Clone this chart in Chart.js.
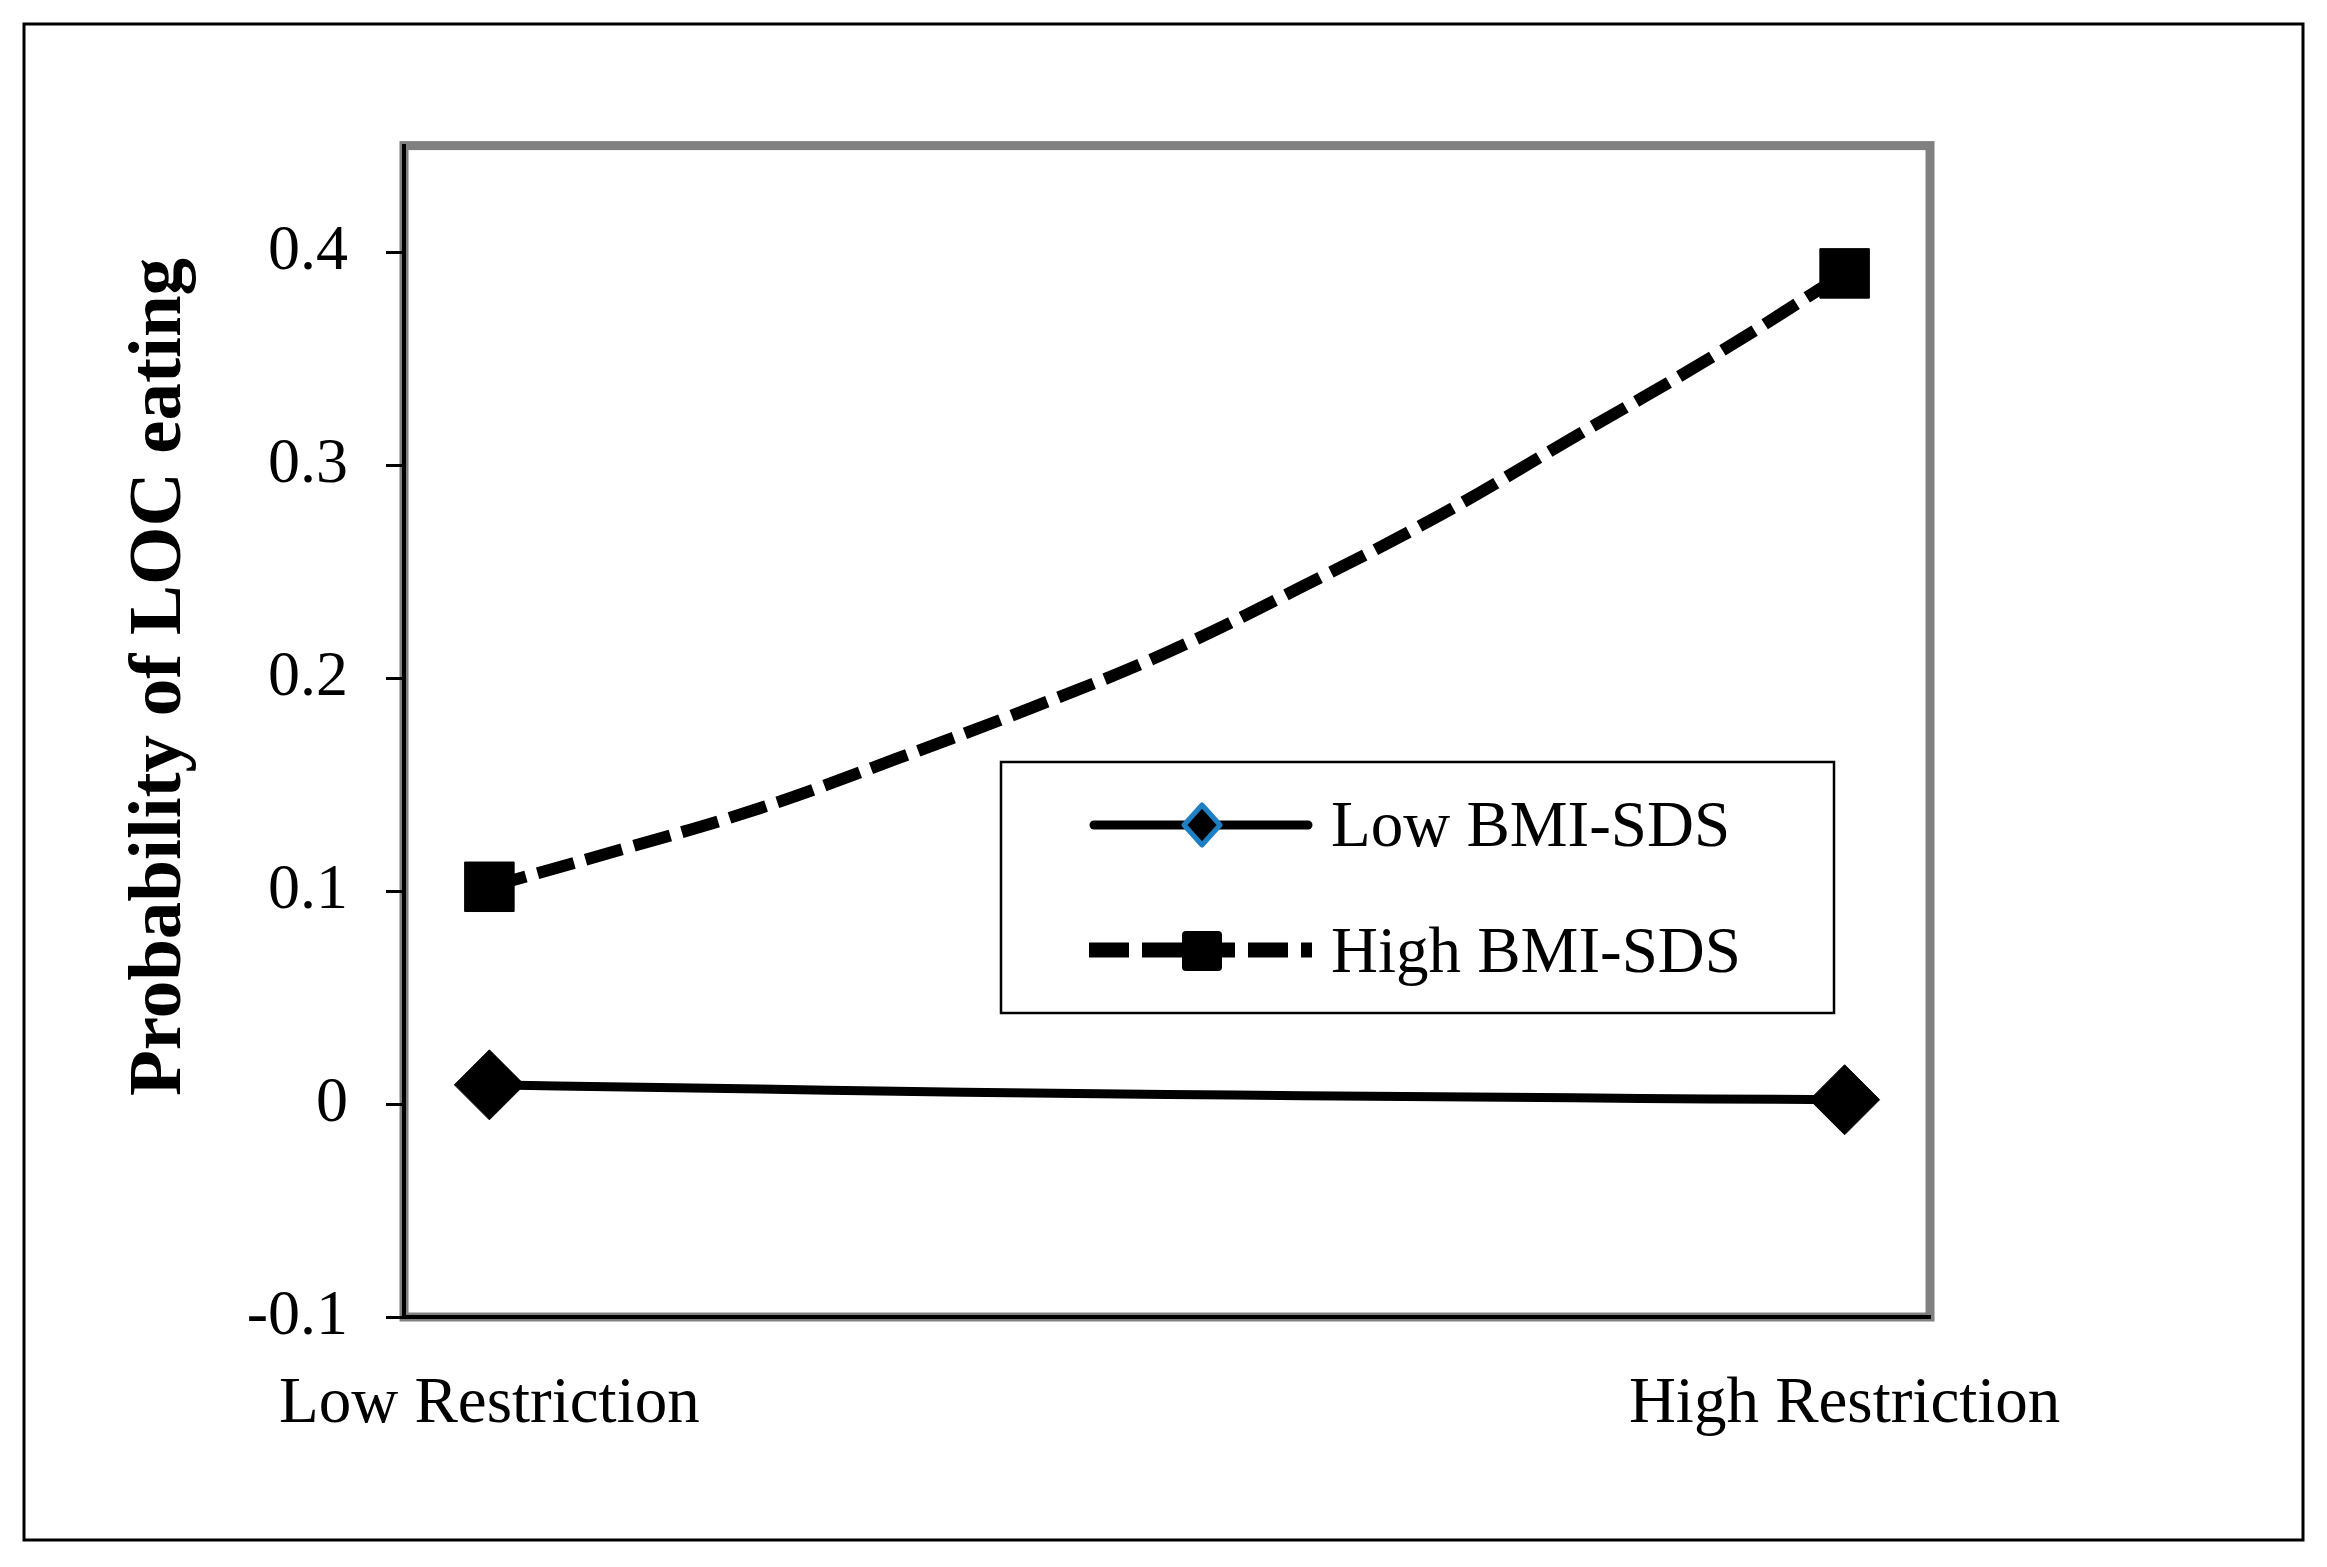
<!DOCTYPE html>
<html>
<head>
<meta charset="utf-8">
<style>
  html, body { margin: 0; padding: 0; background: #ffffff; }
  canvas { display: block; }
</style>
<script src="https://cdn.jsdelivr.net/npm/chart.js@4.4.1/dist/chart.umd.min.js"></script>
</head>
<body>
<canvas id="c" width="2327" height="1567"></canvas>
<script>
// ---- data ----
const xTickLabels = ['Low Restriction', 'High Restriction'];
const restrictionLevels = [0, 0.1, 0.2, 0.3, 0.4, 0.5, 0.6, 0.7, 0.8, 0.9, 1];
const lowBMI  = [0.009, 0.008, 0.007, 0.006, 0.0052, 0.0045, 0.0039, 0.0034, 0.0029, 0.0024, 0.002];
const highBMI = [0.102, 0.120, 0.139, 0.162, 0.186, 0.212, 0.243, 0.276, 0.313, 0.350, 0.390];
const yTickValues = [-0.1, 0, 0.1, 0.2, 0.3, 0.4];
const seriesNames = ['Low BMI-SDS', 'High BMI-SDS'];
const yTitle = 'Probability of LOC eating';

const SERIF = "'Liberation Serif', 'Times New Roman', serif";
const lastIdx = restrictionLevels.length - 1;
const endMarkers = (ctx) => (ctx.dataIndex === 0 || ctx.dataIndex === lastIdx) ? 35 : 0;

const framePlugin = {
  id: 'frame',
  beforeDraw(chart) {
    const { ctx, chartArea: a } = chart;
    ctx.save();
    ctx.fillStyle = '#ffffff';
    ctx.fillRect(0, 0, chart.width, chart.height);
    // outer frame
    ctx.strokeStyle = '#000000';
    ctx.lineWidth = 3;
    ctx.strokeRect(24, 24, 2279, 1516);
    // plot area gray border
    ctx.strokeStyle = '#808080';
    ctx.lineWidth = 9;
    ctx.strokeRect(a.left, a.top, a.right - a.left, a.bottom - a.top);
    ctx.restore();
  },
  afterDraw(chart) {
    const { ctx } = chart;
    ctx.save();
    // y axis title
    ctx.translate(180, 677);
    ctx.rotate(-Math.PI / 2);
    ctx.fillStyle = '#000';
    ctx.font = 'bold 75px ' + SERIF;
    ctx.textAlign = 'center';
    ctx.textBaseline = 'alphabetic';
    ctx.fillText(yTitle, 0, 0);
    ctx.restore();

    // legend
    ctx.save();
    ctx.strokeStyle = '#000';
    ctx.lineWidth = 2.5;
    ctx.strokeRect(1001, 762, 833, 251);
    // row 1: solid line + diamond
    ctx.beginPath();
    ctx.lineWidth = 9;
    ctx.lineCap = 'round';
    ctx.moveTo(1094, 825);
    ctx.lineTo(1308, 825);
    ctx.stroke();
    ctx.beginPath();
    ctx.moveTo(1202, 805); ctx.lineTo(1220, 825); ctx.lineTo(1202, 845); ctx.lineTo(1184, 825); ctx.closePath();
    ctx.fillStyle = '#000';
    ctx.fill();
    ctx.strokeStyle = '#1f7fc4';
    ctx.lineWidth = 5;
    ctx.lineJoin = 'round';
    ctx.stroke();
    // row 2: dashed line + square
    ctx.beginPath();
    ctx.strokeStyle = '#000';
    ctx.lineWidth = 15;
    ctx.lineCap = 'butt';
    ctx.setLineDash([40, 13]);
    ctx.moveTo(1089, 950);
    ctx.lineTo(1312, 950);
    ctx.stroke();
    ctx.setLineDash([]);
    ctx.beginPath();
    if (ctx.roundRect) { ctx.roundRect(1182, 931, 40, 40, 4); } else { ctx.rect(1182, 931, 40, 40); }
    ctx.fillStyle = '#000';
    ctx.fill();
    // texts
    ctx.font = '65px ' + SERIF;
    ctx.textAlign = 'left';
    ctx.textBaseline = 'alphabetic';
    ctx.fillText(seriesNames[0], 1331, 846);
    ctx.fillText(seriesNames[1], 1331, 972);
    ctx.restore();
  }
};

new Chart(document.getElementById('c'), {
  type: 'line',
  data: {
    datasets: [
      {
        label: seriesNames[0],
        data: restrictionLevels.map((x, i) => ({ x: x, y: lowBMI[i] })),
        borderColor: '#000',
        backgroundColor: '#000',
        borderWidth: 9,
        tension: 0.4,
        fill: false,
        pointStyle: 'rectRot',
        pointRadius: endMarkers,
        pointBackgroundColor: '#000',
        pointBorderColor: '#000',
        pointBorderWidth: 1,
        pointHoverRadius: endMarkers
      },
      {
        label: seriesNames[1],
        data: restrictionLevels.map((x, i) => ({ x: x, y: highBMI[i] })),
        borderColor: '#000',
        backgroundColor: '#000',
        borderWidth: 12,
        borderDash: [38, 12],
        borderCapStyle: 'butt',
        tension: 0.4,
        fill: false,
        pointStyle: 'rect',
        pointRadius: endMarkers,
        pointBackgroundColor: '#000',
        pointBorderColor: '#000',
        pointBorderWidth: 1,
        pointHoverRadius: endMarkers
      }
    ]
  },
  options: {
    responsive: false,
    devicePixelRatio: 1,
    animation: false,
    events: [],
    layout: { padding: { left: 0, right: 397, top: 145.6, bottom: 0 } },
    plugins: {
      legend: { display: false },
      title: { display: false },
      tooltip: { enabled: false }
    },
    scales: {
      x: {
        type: 'linear',
        min: -0.063,
        max: 1.063,
        afterBuildTicks: (scale) => { scale.ticks = [{ value: 0 }, { value: 1 }]; },
        afterFit: (scale) => { scale.height = 250; },
        grid: { display: false },
        border: { display: true, color: '#000', width: 4 },
        ticks: {
          autoSkip: false,
          maxRotation: 0,
          padding: 47,
          color: '#000',
          font: { family: SERIF, size: 65, lineHeight: 1 },
          callback: (value, index) => xTickLabels[index]
        }
      },
      y: {
        type: 'linear',
        min: -0.1,
        max: 0.45,
        afterBuildTicks: (scale) => { scale.ticks = yTickValues.map(v => ({ value: v })); },
        afterFit: (scale) => { scale.width = 404; },
        grid: {
          display: true,
          drawOnChartArea: false,
          drawTicks: true,
          tickLength: 18,
          tickWidth: 3,
          tickColor: '#000',
          color: '#000'
        },
        border: { display: true, color: '#000', width: 4 },
        ticks: {
          padding: 38,
          color: '#000',
          font: { family: SERIF, size: 64, lineHeight: 1 },
          callback: (value) => String(Math.round(value * 10) / 10)
        }
      }
    }
  },
  plugins: [framePlugin]
});
</script>
</body>
</html>
